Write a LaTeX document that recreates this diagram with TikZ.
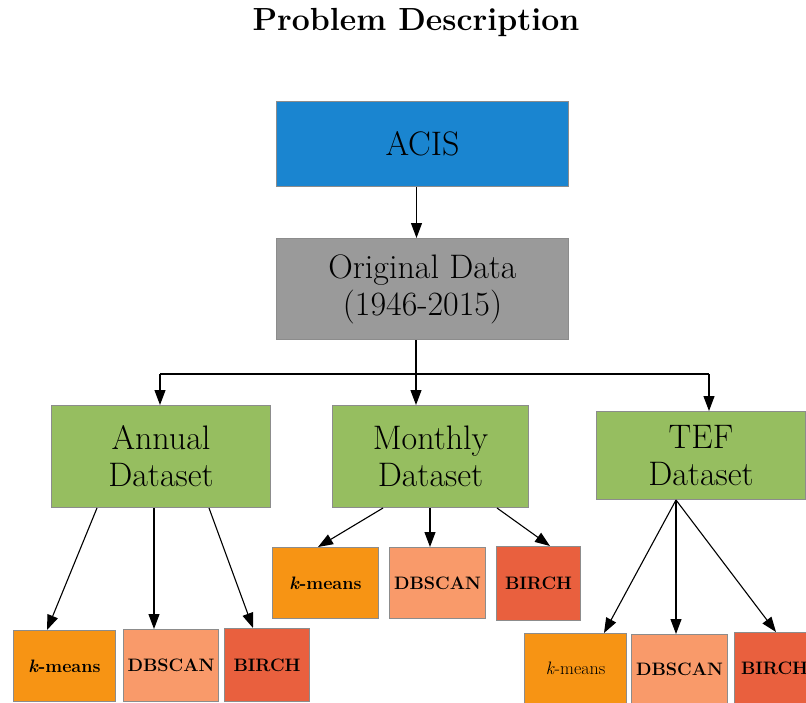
\documentclass[tikz,border=0pt]{standalone}
\usetikzlibrary{calc,arrows.meta}
\definecolor{acisblue}{RGB}{26,133,208}
\definecolor{origgray}{RGB}{154,154,154}
\definecolor{setgreen}{RGB}{150,190,96}
\definecolor{kmorange}{RGB}{247,148,20}
\definecolor{dbsalmon}{RGB}{249,154,106}
\definecolor{birchred}{RGB}{233,96,62}
\definecolor{edgegray}{RGB}{140,140,140}
\tikzset{
	box/.style={draw=edgegray, line width=1pt, inner sep=0pt, align=center, anchor=north west},
	bigtext/.style={font=\fontsize{34}{37}\selectfont},
	smalltext/.style={font=\bfseries\fontsize{18}{21}\selectfont},
	link/.style={-{Triangle[length=15pt,width=11pt]}, line width=1.1pt, black},
}

\begin{document}
\begin{tikzpicture}[x=1pt, y=-1pt]
			%%%%% START %%%%%
			\useasboundingbox (0, 0) rectangle (806, 702);
			
			\node[font=\bfseries\fontsize{32}{35}\selectfont] (title) at (416, 22) {Problem Description};
			
			\node[box, bigtext, fill=acisblue, minimum width=292pt, minimum height=85pt] (acis) at (276, 101) {ACIS};
			\node[box, bigtext, fill=origgray, minimum width=292pt, minimum height=101pt] (orig) at (276, 238) {Original Data\\(1946-2015)};
			
			\node[box, bigtext, fill=setgreen, minimum width=219pt, minimum height=102pt] (annual) at (51, 405) {Annual\\Dataset};
			\node[box, bigtext, fill=setgreen, minimum width=196pt, minimum height=102pt] (monthly) at (332, 405) {Monthly\\Dataset};
			\node[box, bigtext, fill=setgreen, minimum width=209pt, minimum height=88pt] (tef) at (596, 411) {TEF\\Dataset};
			
			\node[box, smalltext, fill=kmorange, minimum width=102pt, minimum height=71pt] (akm) at (13, 630) {\textit{k}-means};
			\node[box, smalltext, fill=dbsalmon, minimum width=95pt, minimum height=72pt] (adb) at (123, 629) {DBSCAN};
			\node[box, smalltext, fill=birchred, minimum width=85pt, minimum height=73pt] (abi) at (224, 628) {BIRCH};
			
			\node[box, smalltext, fill=kmorange, minimum width=106pt, minimum height=71pt] (mkm) at (272, 547) {\textit{k}-means};
			\node[box, smalltext, fill=dbsalmon, minimum width=96pt, minimum height=71pt] (mdb) at (389, 547) {DBSCAN};
			\node[box, smalltext, fill=birchred, minimum width=84pt, minimum height=74pt] (mbi) at (496, 546) {BIRCH};
			
			\node[box, smalltext, font=\mdseries\fontsize{18}{21}\selectfont, fill=kmorange, minimum width=102pt, minimum height=70pt] (tkm) at (524, 633) {\textit{k}-means};
			\node[box, smalltext, fill=dbsalmon, minimum width=96pt, minimum height=69pt] (tdb) at (631, 634) {DBSCAN};
			\node[box, smalltext, fill=birchred, minimum width=80pt, minimum height=72pt] (tbi) at (734, 632) {BIRCH};
			
			\draw[link] ([xshift=-6pt]acis.south) -- ([xshift=-6pt]orig.north);
			
			\coordinate (split) at (416, 374);
			\coordinate (lt) at (160, 374);
			\coordinate (rt) at (709, 374);
			\draw[line width=1.1pt] (split |- orig.south) -- (split);
			\draw[line width=1.1pt] (lt) -- (rt);
			\draw[link] (lt) -- (lt |- annual.north);
			\draw[link] (split) -- (split |- monthly.north);
			\draw[link] (rt) -- (rt |- tef.north);
			
			\draw[link] ([xshift=46pt]annual.south west) -- ([xshift=34pt]akm.north west);
			\draw[link] ([xshift=103pt]annual.south west) -- ([xshift=31pt]adb.north west);
			\draw[link] ([xshift=158pt]annual.south west) -- ([xshift=29pt]abi.north west);
			
			\draw[link] ([xshift=51pt]monthly.south west) -- ([xshift=46pt]mkm.north west);
			\draw[link] ([xshift=98pt]monthly.south west) -- ([xshift=41pt]mdb.north west);
			\draw[link] ([xshift=165pt]monthly.south west) -- ([xshift=54pt]mbi.north west);
			
			\draw[link] ([xshift=80pt]tef.south west) -- ([xshift=80pt]tkm.north west);
			\draw[link] ([xshift=80pt]tef.south west) -- ([xshift=45pt]tdb.north west);
			\draw[link] ([xshift=80pt]tef.south west) -- ([xshift=42pt]tbi.north west);
			
			%%%%% END %%%%%
\end{tikzpicture}
\end{document}
